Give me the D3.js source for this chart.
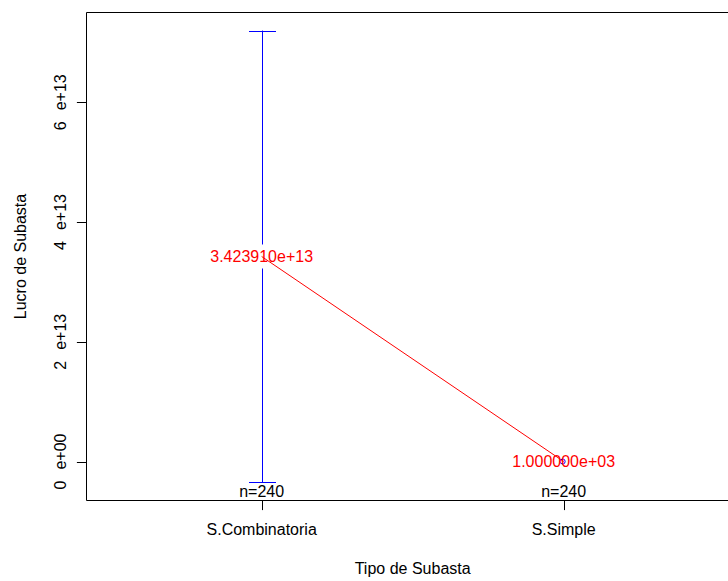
<!DOCTYPE html>
<html>
<head>
	<meta http-equiv="Content-Type" content="text/html;charset=utf-8"/>
	<title>Lucro de Subasta por Tipo de Subasta</title>
	<script src="https://d3js.org/d3.v7.min.js"></script>
	<style type="text/css">
		body { margin: 0; background: #fff; }
		svg { display: block; font-family: "Liberation Sans", Arial, Helvetica, sans-serif; }
		.frame { fill: none; stroke: #000; stroke-width: 1; }
		.tick { stroke: #000; stroke-width: 1; }
		.lbl { font-size: 16px; fill: #000; }
		.mean-lbl { font-size: 16px; fill: #ff0000; text-anchor: middle; }
		.ci { stroke: #0000ff; stroke-width: 1; fill: none; }
		.connect { stroke: #ff0000; stroke-width: 1; fill: none; }
	</style>
</head>
<body>
<svg width="728" height="581"></svg>

<script type="text/javascript">
// data
const groups = ["S.Combinatoria", "S.Simple"];
const means = [3.42391e13, 1.0e3];
const ciLower = [-0.349e13, 1.0e3];
const ciUpper = [7.197e13, 1.0e3];
const counts = [240, 240];
const meanLabels = ["3.423910e+13", "1.000000e+03"];
const yTicks = [0, 2e13, 4e13, 6e13];
const yTickLabels = ["0 e+00", "2 e+13", "4 e+13", "6 e+13"];

const svg = d3.select("svg");
const plotLeft = 86.5, plotTop = 12.5, plotBottom = 500.5;

// R style: xlim 0.5 .. n+0.5, ylim = range of CIs, both padded 4%
const xlo = 0.5, xhi = groups.length + 0.5;
const xpad = (xhi - xlo) * 0.04;
const x = d3.scaleLinear()
	.domain([xlo - xpad, xhi + xpad])
	.range([plotLeft, plotLeft + 302 * (xhi - xlo + 2 * xpad)]);

const ylo = d3.min(ciLower), yhi = d3.max(ciUpper);
const ypad = (yhi - ylo) * 0.04;
const y = d3.scaleLinear()
	.domain([ylo - ypad, yhi + ypad])
	.range([plotBottom, plotTop]);

const plotRight = x.range()[1];

// connecting line of the means
svg.append("path")
	.attr("class", "connect")
	.attr("d", d3.line().x((d, i) => x(i + 1)).y(d => y(d))(means));

// confidence bars, with a gap round the label
const gap = 12, capHalf = 13.5;
groups.forEach((g, i) => {
	const cx = Math.round(x(i + 1)) + 0.5;
	const cy = y(means[i]);
	const yu = y(ciUpper[i]), yl = y(ciLower[i]);
	if (yl - yu > 2 * gap) {
		svg.append("line").attr("class", "ci")
			.attr("x1", cx).attr("x2", cx).attr("y1", yu).attr("y2", cy - gap);
		svg.append("line").attr("class", "ci")
			.attr("x1", cx).attr("x2", cx).attr("y1", cy + gap).attr("y2", yl);
		svg.append("line").attr("class", "ci")
			.attr("x1", cx - capHalf).attr("x2", cx + capHalf).attr("y1", Math.round(yu) + 0.5).attr("y2", Math.round(yu) + 0.5);
		svg.append("line").attr("class", "ci")
			.attr("x1", cx - capHalf).attr("x2", cx + capHalf).attr("y1", Math.round(yl) + 0.5).attr("y2", Math.round(yl) + 0.5);
	} else {
		svg.append("circle").attr("class", "ci")
			.attr("cx", x(i + 1) - 1).attr("cy", cy).attr("r", 2.5);
	}
});

// mean labels
svg.selectAll("text.mean-lbl")
	.data(means)
	.enter().append("text")
		.attr("class", "mean-lbl")
		.attr("x", (d, i) => x(i + 1))
		.attr("y", d => y(d) + 5.8)
		.text((d, i) => meanLabels[i]);

// n= labels just above the x axis
svg.selectAll("text.n-lbl")
	.data(counts)
	.enter().append("text")
		.attr("class", "lbl n-lbl")
		.attr("text-anchor", "middle")
		.attr("x", (d, i) => x(i + 1))
		.attr("y", 496.5)
		.text(d => "n=" + d);

// frame
svg.append("path")
	.attr("class", "frame")
	.attr("d", `M${plotRight},${plotTop}H${plotLeft}V${plotBottom}H${plotRight}`);

// x axis ticks + labels
groups.forEach((g, i) => {
	const cx = Math.round(x(i + 1)) + 0.5;
	svg.append("line").attr("class", "tick")
		.attr("x1", cx).attr("x2", cx).attr("y1", plotBottom).attr("y2", plotBottom + 9.6);
	svg.append("text").attr("class", "lbl")
		.attr("text-anchor", "middle")
		.attr("x", x(i + 1)).attr("y", 535)
		.text(g);
});

// y axis ticks + rotated labels
yTicks.forEach((t, i) => {
	const ty = Math.round(y(t)) + 0.5;
	svg.append("line").attr("class", "tick")
		.attr("x1", plotLeft - 9.6).attr("x2", plotLeft).attr("y1", ty).attr("y2", ty);
	const parts = yTickLabels[i].split(" ");
	const txt = svg.append("text").attr("class", "lbl")
		.attr("text-anchor", "middle")
		.attr("transform", `translate(66,${y(t)}) rotate(-90)`);
	txt.append("tspan").text(parts[0]);
	txt.append("tspan").attr("dx", 11).text(parts[1]);
});

// axis titles
svg.append("text").attr("class", "lbl")
	.attr("text-anchor", "middle")
	.attr("x", (plotLeft + plotRight) / 2).attr("y", 574)
	.text("Tipo de Subasta");

svg.append("text").attr("class", "lbl")
	.attr("text-anchor", "middle")
	.attr("transform", `translate(26,${(plotTop + plotBottom) / 2}) rotate(-90)`)
	.text("Lucro de Subasta");
</script>
</body>
</html>
